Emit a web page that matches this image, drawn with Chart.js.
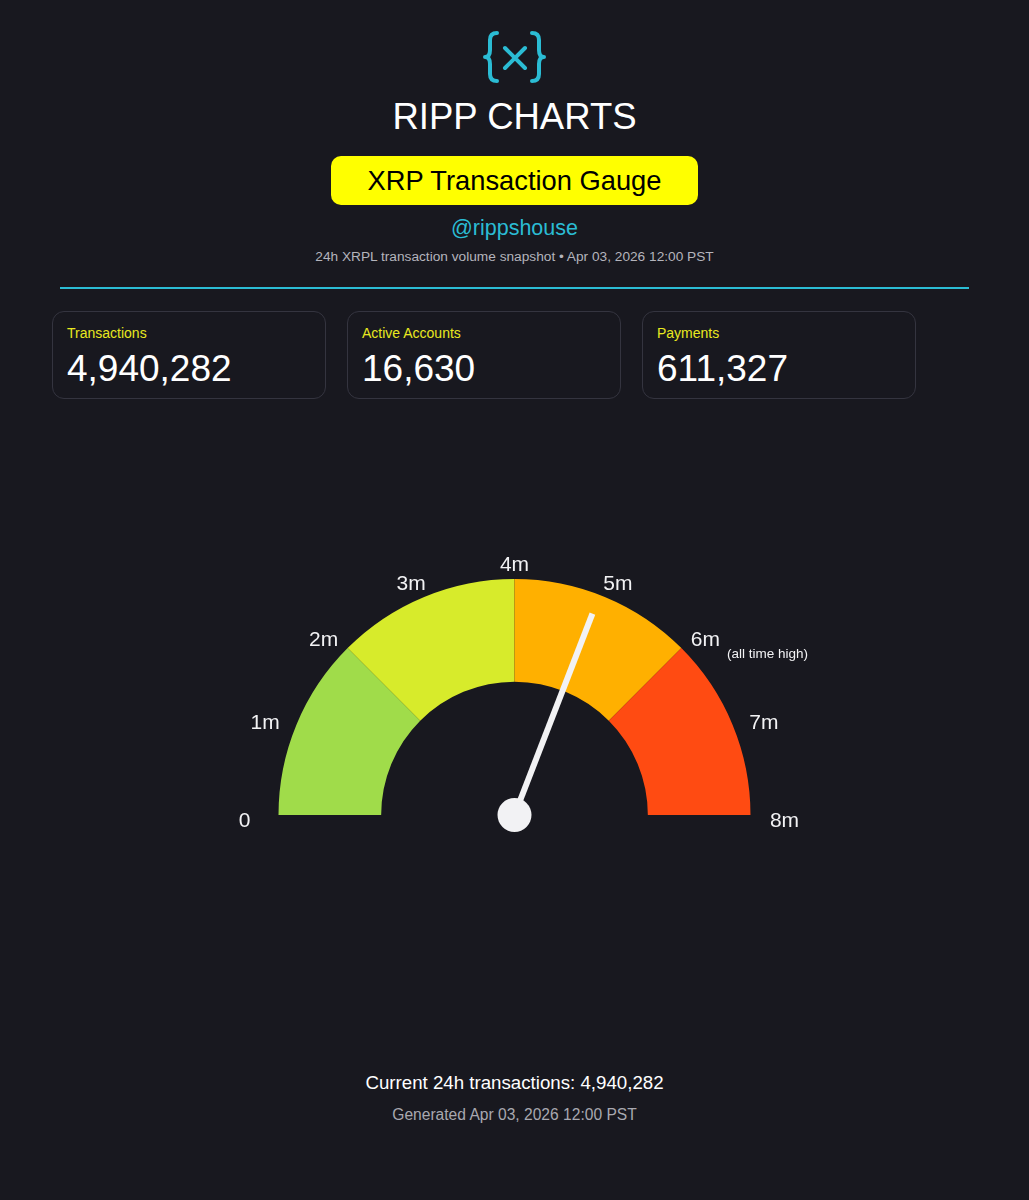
<!DOCTYPE html>
<html>
<head>
<meta charset="utf-8">
<title>XRP Transaction Gauge</title>
<script src="https://cdn.jsdelivr.net/npm/chart.js@4.4.1/dist/chart.umd.min.js"></script>
<style>
html, body { margin: 0; padding: 0; background: #18181f; width: 1029px; height: 1200px; overflow: hidden;
  font-family: "Liberation Sans", Arial, Helvetica, sans-serif; }
.center { position: absolute; left: 0; width: 1029px; text-align: center; white-space: nowrap; }
#logo { position: absolute; left: 479px; top: 26px; }
#title { top: 97px; font-size: 36.5px; line-height: 40px; color: #ffffff; }
#badge { position: absolute; left: 331px; top: 156px; width: 367px; height: 49px; line-height: 50px;
  border-radius: 10px; background: #ffff00; color: #000; font-size: 27.3px; text-align: center; }
#handle { top: 215px; font-size: 21.5px; line-height: 26px; color: #2bbcd4; }
#sub { top: 249px; font-size: 13.7px; line-height: 16px; color: #b4b4bc; }
#rule { position: absolute; left: 60px; top: 287px; width: 909px; height: 2px; background: #2bbcd4; }
.card { position: absolute; top: 311px; width: 272px; height: 86px; border: 1px solid #34343f; border-radius: 12px; }
.card .lbl { position: absolute; left: 14px; top: 13px; font-size: 14px; line-height: 17px; color: #e8e820; }
.card .val { position: absolute; left: 14px; top: 35px; font-size: 37px; line-height: 44px; color: #ffffff; }
#gaugeWrap { position: absolute; left: 0; top: 530px; width: 1029px; height: 320px; }
#foot1 { top: 1072px; font-size: 18.7px; line-height: 22px; color: #ffffff; }
#foot2 { top: 1106px; font-size: 15.6px; line-height: 18px; color: #a8a8b0; }
</style>
</head>
<body>
<svg id="logo" width="72" height="60" viewBox="0 0 72 60">
  <g fill="none" stroke="#2bbcd4" stroke-width="4" stroke-linecap="round" stroke-linejoin="round">
    <path d="M18,7 Q11,7 11,14 L11,24 Q11,31 6,31 Q11,31 11,38 L11,48 Q11,55 18,55"/>
    <path d="M53,7 Q60,7 60,14 L60,24 Q60,31 65,31 Q60,31 60,38 L60,48 Q60,55 53,55"/>
    <path d="M26,22 L46,42 M46,22 L26,42"/>
  </g>
</svg>
<div id="title" class="center">RIPP CHARTS</div>
<div id="badge">XRP Transaction Gauge</div>
<div id="handle" class="center">@rippshouse</div>
<div id="sub" class="center"></div>
<div id="rule"></div>
<div id="cards"></div>
<div id="gaugeWrap"><canvas id="gauge" width="1029" height="320"></canvas></div>
<div id="foot1" class="center"></div>
<div id="foot2" class="center"></div>

<script>
// snapshot values
const snapshotTime = 'Apr 03, 2026 12:00 PST';
const statLabels = ['Transactions', 'Active Accounts', 'Payments'];
const statValues = [4940282, 16630, 611327];
const currentTx = 4940282;

// gauge zones (in transactions)
const zoneLabels = ['0-2m', '2-4m', '4-6m', '6-8m'];
const zoneSizes = [2000000, 2000000, 2000000, 2000000];
const zoneColors = ['#a0dc4a', '#d7eb2b', '#ffb000', '#ff4b12'];

// tick marks around the dial
const tickValues = [0, 1000000, 2000000, 3000000, 4000000, 5000000, 6000000, 7000000, 8000000];
const tickLabels = ['0', '1m', '2m', '3m', '4m', '5m', '6m', '7m', '8m'];
const athValue = 6000000;
const athNote = '(all time high)';

const fmt = n => n.toLocaleString('en-US');
const font = '"Liberation Sans", Arial, sans-serif';

document.getElementById('sub').textContent = '24h XRPL transaction volume snapshot \u2022 ' + snapshotTime;
document.getElementById('foot1').textContent = 'Current 24h transactions: ' + fmt(currentTx);
document.getElementById('foot2').textContent = 'Generated ' + snapshotTime;

const cardLefts = [52, 347, 642];
statLabels.forEach((label, i) => {
    const card = document.createElement('div');
    card.className = 'card';
    card.style.left = cardLefts[i] + 'px';
    card.innerHTML = '<div class="lbl"></div><div class="val"></div>';
    card.querySelector('.lbl').textContent = label;
    card.querySelector('.val').textContent = fmt(statValues[i]);
    document.getElementById('cards').appendChild(card);
});

const gaugeMax = tickValues[tickValues.length - 1];

const gaugeDecor = {
    id: 'gaugeDecor',
    afterDraw(chart) {
        const arc = chart.getDatasetMeta(0).data[0];
        const cx = arc.x, cy = arc.y, R = arc.outerRadius;
        const ctx = chart.ctx;
        const angleOf = v => Math.PI + (v / gaugeMax) * Math.PI;

        ctx.save();
        ctx.fillStyle = '#f2f2f4';
        ctx.textAlign = 'center';
        ctx.textBaseline = 'middle';
        tickValues.forEach((v, i) => {
            const a = angleOf(v);
            const x = cx + (R + 34) * Math.cos(a);
            const y = cy + (R + 20) * Math.sin(a) + 6;
            ctx.font = '21px ' + font;
            ctx.fillText(tickLabels[i], x, y);
            if (v === athValue) {
                const w = ctx.measureText(tickLabels[i]).width;
                ctx.font = '13.5px ' + font;
                ctx.textAlign = 'left';
                ctx.fillText(athNote, x + w / 2 + 7, y + 14);
                ctx.textAlign = 'center';
            }
        });

        // needle
        const a = angleOf(currentTx);
        const len = R * 0.915;
        ctx.strokeStyle = '#f2f2f4';
        ctx.lineWidth = 6;
        ctx.lineCap = 'butt';
        ctx.beginPath();
        ctx.moveTo(cx, cy);
        ctx.lineTo(cx + len * Math.cos(a), cy + len * Math.sin(a));
        ctx.stroke();

        ctx.beginPath();
        ctx.arc(cx, cy, 17, 0, Math.PI * 2);
        ctx.fill();
        ctx.restore();
    }
};

new Chart(document.getElementById('gauge'), {
    type: 'doughnut',
    data: {
        labels: zoneLabels,
        datasets: [{ data: zoneSizes, backgroundColor: zoneColors, borderWidth: 0 }]
    },
    options: {
        responsive: false,
        animation: false,
        rotation: -90,
        circumference: 180,
        cutout: '56.5%',
        layout: { padding: { left: 278, right: 278, top: 49, bottom: 35 } },
        plugins: { legend: { display: false }, tooltip: { enabled: false } }
    },
    plugins: [gaugeDecor]
});
</script>
</body>
</html>
